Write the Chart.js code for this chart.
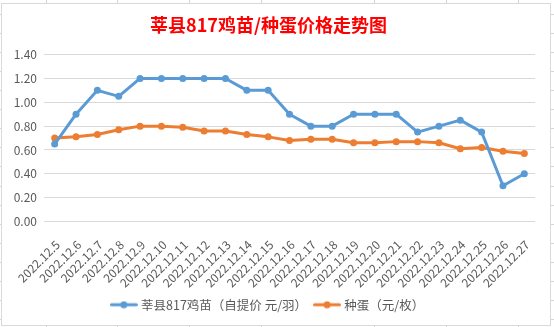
<!DOCTYPE html>
<html>
<head>
<meta charset="utf-8">
<script src="https://cdn.jsdelivr.net/npm/chart.js@4"></script>
<style>
  html, body { margin: 0; padding: 0; background: #fff; }
  body { position: relative; width: 554px; height: 327px; overflow: hidden; }
  .vline { position: absolute; top: 0; height: 327px; width: 1px; background: #d4d4d4; }
  .rows { position: absolute; left: 0; top: 0; width: 554px; height: 327px;
          background-image: repeating-linear-gradient(to bottom, transparent 0, transparent 14px, #d4d4d4 14px, #d4d4d4 15px, transparent 15px, transparent 19.06px); }
  #box { position: absolute; left: 1px; top: 3px; width: 550px; height: 323px;
         box-sizing: border-box; border: 1px solid #d9d9d9; background: #fff; }
  #box canvas { display: block; }
</style>
</head>
<body>
<div class="rows"></div>
<div class="vline" style="left:46px"></div>
<div class="vline" style="left:117px"></div>
<div class="vline" style="left:189px"></div>
<div class="vline" style="left:261px"></div>
<div class="vline" style="left:374px"></div>
<div class="vline" style="left:446px"></div>
<div class="vline" style="left:518px"></div>
<div id="box"><canvas id="chart" width="548" height="321"></canvas></div>
<script>
const dates = [
  '2022.12.5', '2022.12.6', '2022.12.7', '2022.12.8', '2022.12.9', '2022.12.10',
  '2022.12.11', '2022.12.12', '2022.12.13', '2022.12.14', '2022.12.15', '2022.12.16',
  '2022.12.17', '2022.12.18', '2022.12.19', '2022.12.20', '2022.12.21', '2022.12.22',
  '2022.12.23', '2022.12.24', '2022.12.25', '2022.12.26', '2022.12.27'
];
// 鸡苗 price (元/羽)
const chickPrice = [
  0.65, 0.90, 1.10, 1.05, 1.20, 1.20, 1.20, 1.20, 1.20, 1.10, 1.10, 0.90,
  0.80, 0.80, 0.90, 0.90, 0.90, 0.75, 0.80, 0.85, 0.75, 0.30, 0.40
];
// 种蛋 price (元/枚)
const eggPrice = [
  0.70, 0.71, 0.73, 0.77, 0.80, 0.80, 0.79, 0.76, 0.76, 0.73, 0.71, 0.68,
  0.69, 0.69, 0.66, 0.66, 0.67, 0.67, 0.66, 0.61, 0.62, 0.59, 0.57
];
const yTicks = [0, 0.2, 0.4, 0.6, 0.8, 1.0, 1.2, 1.4];

const BLUE = '#5B9BD5';
const ORANGE = '#ED7D31';
const TEXT = '#595959';
const FONT = "'Noto Sans CJK SC', 'Noto Sans', sans-serif";

// line + dot marker for the legend
function legendMarker(color) {
  const c = document.createElement('canvas');
  c.width = 28;
  c.height = 8;
  const ctx = c.getContext('2d');
  ctx.strokeStyle = color;
  ctx.lineWidth = 3;
  ctx.lineCap = 'round';
  ctx.beginPath();
  ctx.moveTo(1.5, 4);
  ctx.lineTo(26.5, 4);
  ctx.stroke();
  ctx.fillStyle = color;
  ctx.beginPath();
  ctx.arc(14, 4, 3.5, 0, Math.PI * 2);
  ctx.fill();
  return c;
}
const markers = [legendMarker(BLUE), legendMarker(ORANGE)];

const lineStyle = {
  borderWidth: 3,
  pointRadius: 3.5,
  pointHoverRadius: 3.5,
  pointBorderWidth: 0,
  tension: 0,
  borderJoinStyle: 'round',
  borderCapStyle: 'round'
};

new Chart(document.getElementById('chart'), {
  type: 'line',
  data: {
    labels: dates,
    datasets: [
      {
        label: '莘县817鸡苗（自提价 元/羽）',
        data: chickPrice,
        borderColor: BLUE,
        backgroundColor: BLUE,
        ...lineStyle
      },
      {
        label: '种蛋（元/枚）',
        data: eggPrice,
        borderColor: ORANGE,
        backgroundColor: ORANGE,
        ...lineStyle
      }
    ]
  },
  options: {
    responsive: false,
    animation: false,
    layout: { padding: { left: 0, right: 15, top: 0, bottom: 4 } },
    plugins: {
      title: {
        display: true,
        text: '莘县817鸡苗/种蛋价格走势图',
        color: '#FF0000',
        font: { family: FONT, size: 18, weight: 'bold' },
        padding: { top: 10, bottom: 19 }
      },
      legend: {
        position: 'bottom',
        labels: {
          usePointStyle: true,
          pointStyleWidth: 22,
          padding: 9,
          color: TEXT,
          font: { family: FONT, size: 12.5 },
          generateLabels: (chart) => {
            const items = Chart.defaults.plugins.legend.labels.generateLabels(chart);
            items.forEach((it, i) => { it.pointStyle = markers[i]; });
            return items;
          }
        }
      },
      tooltip: { enabled: false }
    },
    scales: {
      x: {
        offset: true,
        grid: { display: false },
        border: { display: false },
        ticks: {
          autoSkip: false,
          maxRotation: 45,
          minRotation: 45,
          color: TEXT,
          padding: 8,
          labelOffset: 3,
          font: { family: FONT, size: 12 }
        },
        afterFit: (scale) => { scale.height = 68; }
      },
      y: {
        min: 0,
        max: 1.4,
        afterBuildTicks: (scale) => { scale.ticks = yTicks.map(v => ({ value: v })); },
        grid: { color: '#d9d9d9', lineWidth: 1, drawTicks: false },
        border: { display: false },
        ticks: {
          color: TEXT,
          padding: 7,
          font: { family: FONT, size: 12 },
          callback: (v) => Number(v).toFixed(2)
        },
        afterFit: (scale) => { scale.width = 42; }
      }
    }
  }
});
</script>
</body>
</html>
